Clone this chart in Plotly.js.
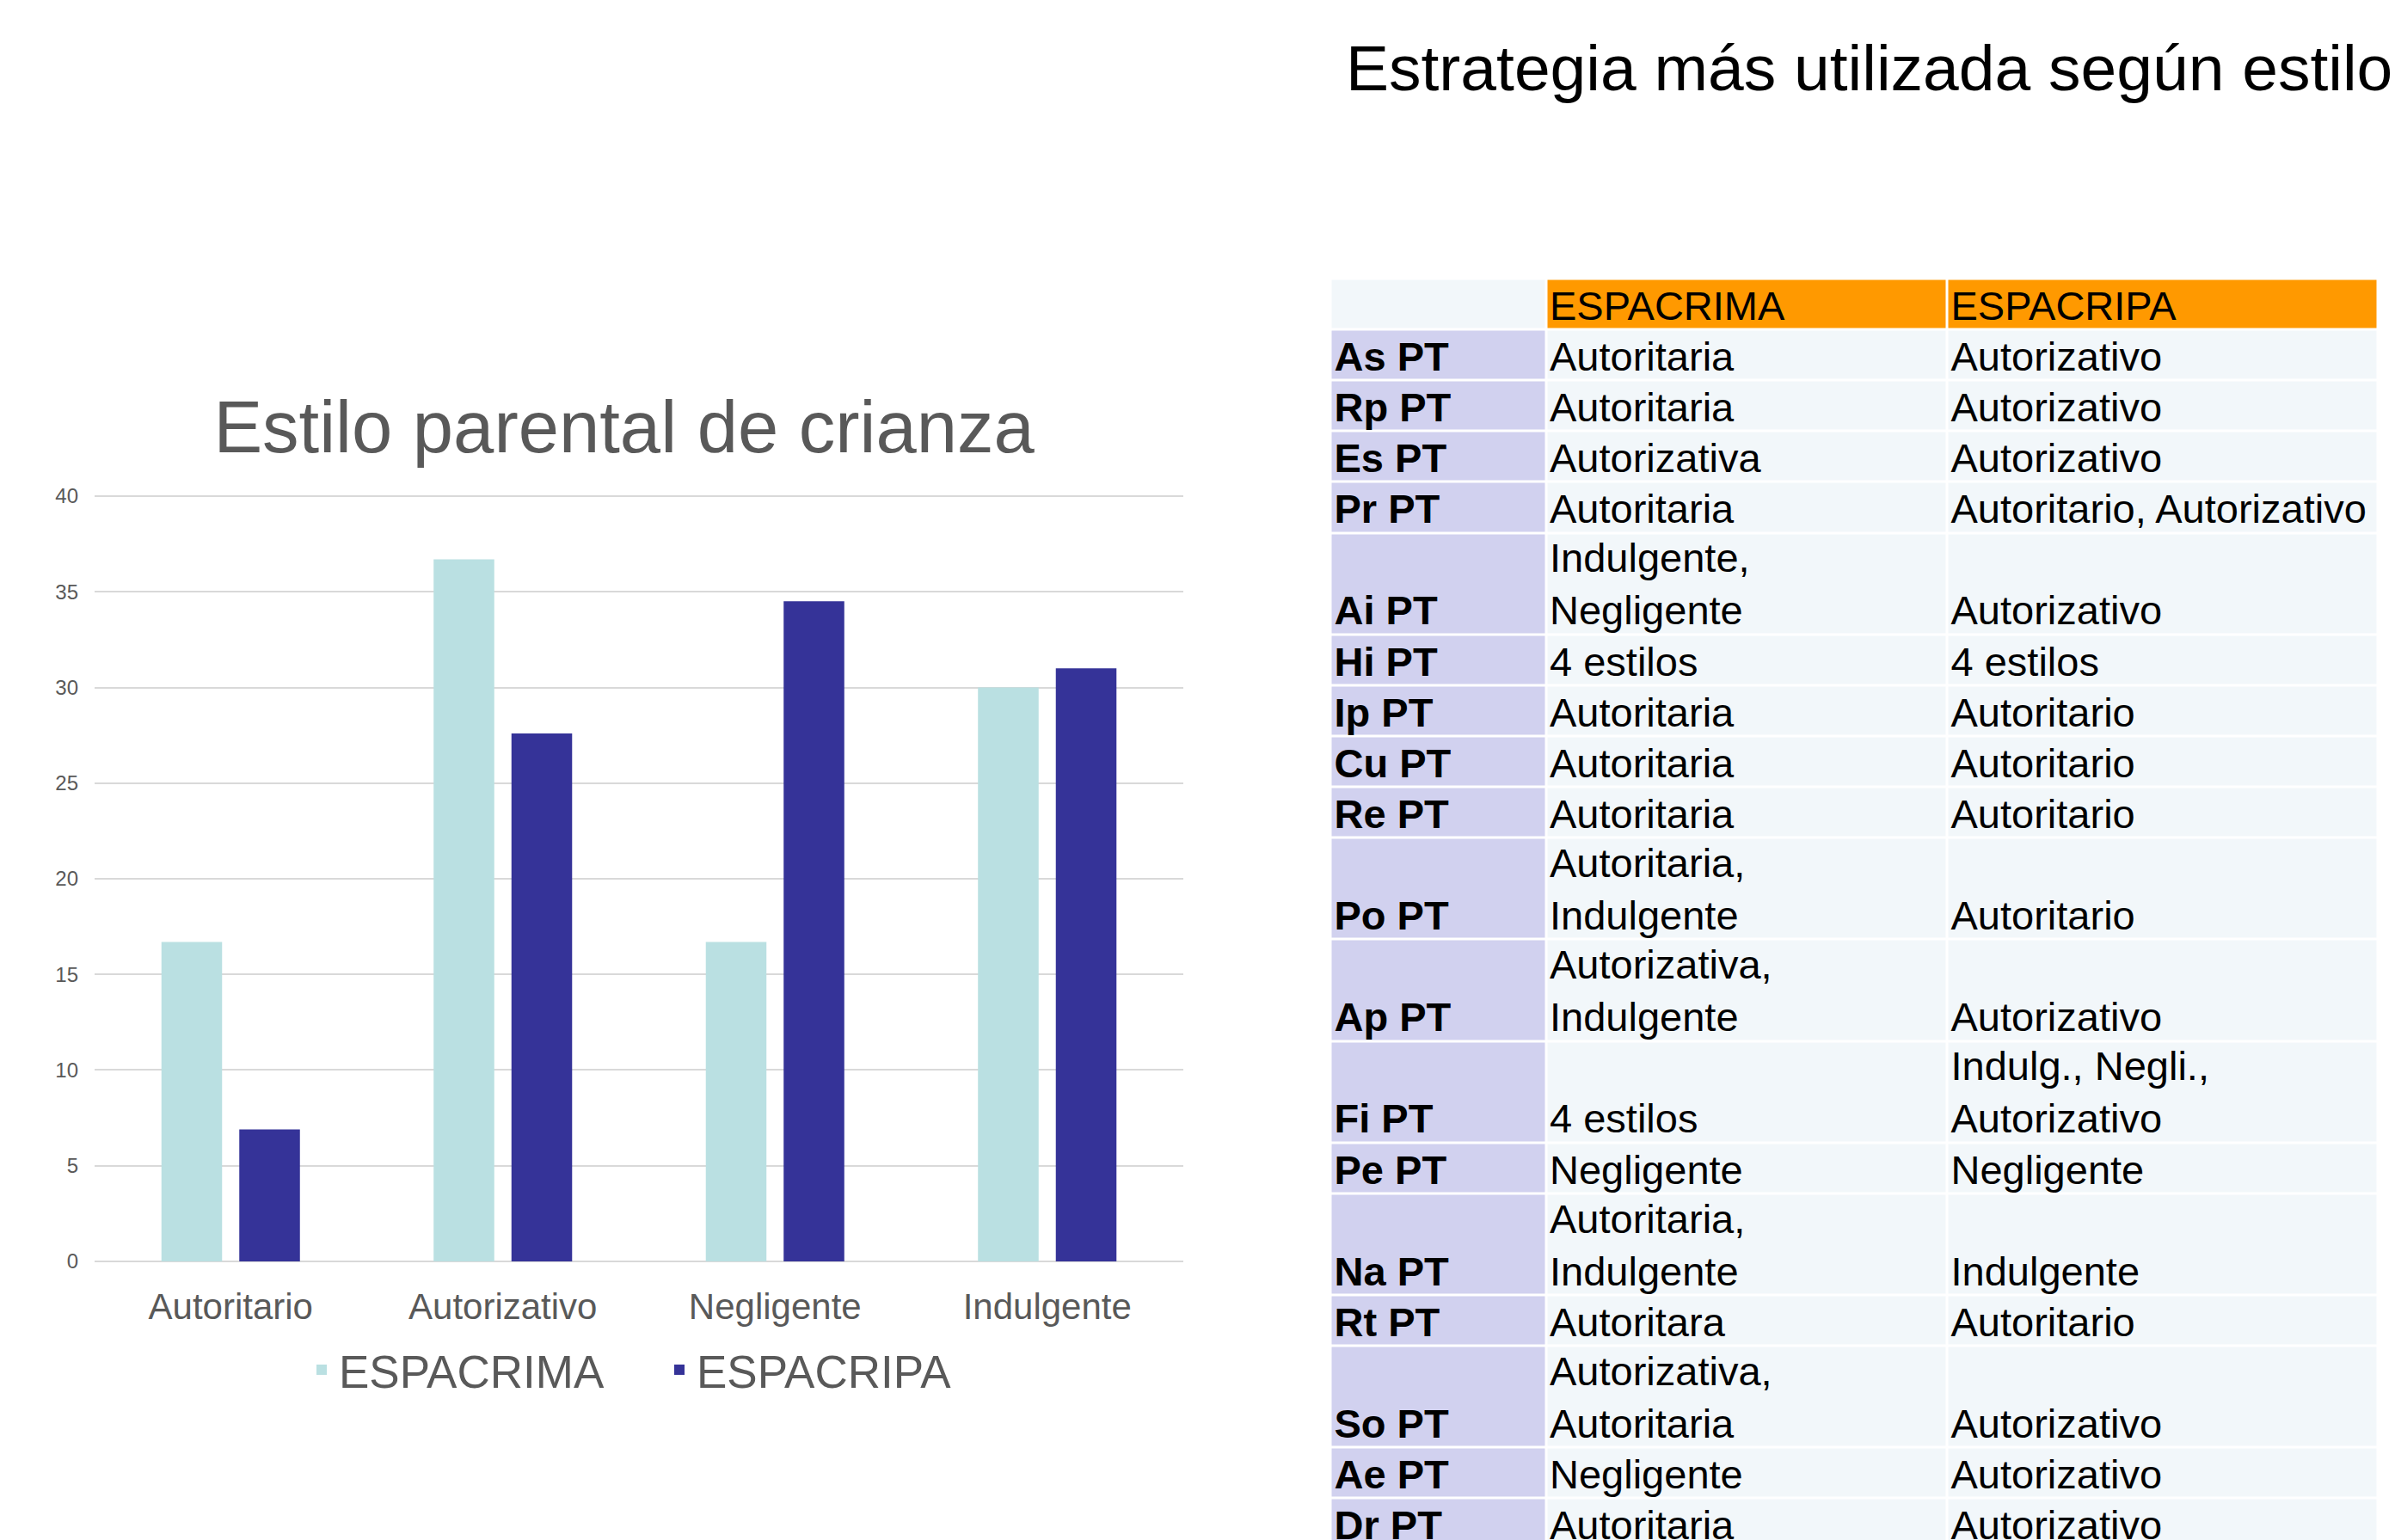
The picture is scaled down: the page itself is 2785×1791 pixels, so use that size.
<!DOCTYPE html>
<html>
<head>
<meta charset="utf-8">
<script src="https://cdn.plot.ly/plotly-3.0.1.min.js"></script>
<style>
  html, body { margin: 0; padding: 0; background: #ffffff; overflow: hidden; }
  #chart { width: 2785px; height: 1791px; }
</style>
</head>
<body>
<div id="chart"></div>
<script>
// ---------------- DATA ----------------
const categories = ['Autoritario', 'Autorizativo', 'Negligente', 'Indulgente'];
const espacrimaValues = [16.7, 36.7, 16.7, 30.0];
const espacripaValues = [6.9, 27.6, 34.5, 31.0];
const seriesNames = ['ESPACRIMA', 'ESPACRIPA'];

const tableHeader = ['', 'ESPACRIMA', 'ESPACRIPA'];
const rowLabels = ['As PT', 'Rp PT', 'Es PT', 'Pr PT', 'Ai PT', 'Hi PT', 'Ip PT', 'Cu PT', 'Re PT',
  'Po PT', 'Ap PT', 'Fi PT', 'Pe PT', 'Na PT', 'Rt PT', 'So PT', 'Ae PT', 'Dr PT'];
const colEspacrima = ['Autoritaria', 'Autoritaria', 'Autorizativa', 'Autoritaria', 'Indulgente,\nNegligente',
  '4 estilos', 'Autoritaria', 'Autoritaria', 'Autoritaria', 'Autoritaria,\nIndulgente', 'Autorizativa,\nIndulgente',
  '4 estilos', 'Negligente', 'Autoritaria,\nIndulgente', 'Autoritara', 'Autorizativa,\nAutoritaria', 'Negligente', 'Autoritaria'];
const colEspacripa = ['Autorizativo', 'Autorizativo', 'Autorizativo', 'Autoritario, Autorizativo', 'Autorizativo',
  '4 estilos', 'Autoritario', 'Autoritario', 'Autoritario', 'Autoritario', 'Autorizativo', 'Indulg., Negli.,\nAutorizativo',
  'Negligente', 'Indulgente', 'Autoritario', 'Autorizativo', 'Autorizativo', 'Autorizativo'];

// ---------------- LAYOUT CONSTANTS ----------------
const W = 2785, H = 1791;
const FONT = 'Liberation Sans, Arial, sans-serif';
const GREY = '#595959';
const COLORS = { espacrima: '#BAE0E2', espacripa: '#353398', header: '#FF9900', rowHead: '#D1D1EF', cell: '#F2F7FA' };

// bar plot area (px)
const plotLeft = 110, plotRight = 1376, plotBottom = 1467, pxPerUnit = 22.25;
const yMax = 40.06;
const plotTop = plotBottom - yMax * pxPerUnit;
// table area (px)
const tblLeft = 1547.5, tblTop = 324.5, rowUnit = 59.1;
const colWidths = [250.5, 466.5, 501];
const tblFont = 47, textPadX = 4;

// ---------------- TABLE GEOMETRY ----------------
const colEdges = [0];
colWidths.forEach(w => colEdges.push(colEdges[colEdges.length - 1] + w));
const tblRight = tblLeft + colEdges[colEdges.length - 1];

const lineCount = rowLabels.map((_, i) =>
  Math.max(colEspacrima[i].split('\n').length, colEspacripa[i].split('\n').length));
const rowEdges = [0, 1];
lineCount.forEach(n => rowEdges.push(rowEdges[rowEdges.length - 1] + n));

const z = [[0, 1, 1]];
rowLabels.forEach(() => z.push([2, 0, 0]));

const toBr = s => s.split('\n').join('<br>');
const rowBottoms = rowEdges.slice(2);

const yRangeBottom = (H - tblTop) / rowUnit;

const traces = [
  {
    type: 'bar', name: seriesNames[0], x: categories, y: espacrimaValues,
    marker: { color: COLORS.espacrima }, xaxis: 'x', yaxis: 'y', hoverinfo: 'x+y+name'
  },
  {
    type: 'bar', name: seriesNames[1], x: categories, y: espacripaValues,
    marker: { color: COLORS.espacripa }, xaxis: 'x', yaxis: 'y', hoverinfo: 'x+y+name'
  },
  {
    type: 'heatmap', x: colEdges, y: rowEdges, z: z, zmin: 0, zmax: 2,
    colorscale: [[0, COLORS.cell], [0.25, COLORS.cell], [0.25, COLORS.header], [0.75, COLORS.header],
      [0.75, COLORS.rowHead], [1, COLORS.rowHead]],
    showscale: false, xgap: 3, ygap: 3, hoverinfo: 'skip', xaxis: 'x2', yaxis: 'y2', showlegend: false
  },
  {
    type: 'scatter', mode: 'text', x: [colEdges[1] + textPadX, colEdges[2] + textPadX], y: [1, 1],
    text: tableHeader.slice(1), textposition: 'top right',
    textfont: { family: FONT, size: tblFont, color: '#000000' },
    hoverinfo: 'skip', xaxis: 'x2', yaxis: 'y2', showlegend: false
  },
  {
    type: 'scatter', mode: 'text', x: rowLabels.map(() => colEdges[0] + textPadX), y: rowBottoms,
    text: rowLabels, textposition: 'top right',
    textfont: { family: FONT, size: tblFont, color: '#000000', weight: 700 },
    hoverinfo: 'skip', xaxis: 'x2', yaxis: 'y2', showlegend: false
  },
  {
    type: 'scatter', mode: 'text', x: colEspacrima.map(() => colEdges[1] + textPadX), y: rowBottoms,
    text: colEspacrima.map(toBr), textposition: 'top right',
    textfont: { family: FONT, size: tblFont, color: '#000000' },
    hoverinfo: 'skip', xaxis: 'x2', yaxis: 'y2', showlegend: false
  },
  {
    type: 'scatter', mode: 'text', x: colEspacripa.map(() => colEdges[2] + textPadX), y: rowBottoms,
    text: colEspacripa.map(toBr), textposition: 'top right',
    textfont: { family: FONT, size: tblFont, color: '#000000' },
    hoverinfo: 'skip', xaxis: 'x2', yaxis: 'y2', showlegend: false
  }
];

const layout = {
  width: W, height: H,
  margin: { l: 0, r: 0, t: 0, b: 0, pad: 0 },
  paper_bgcolor: '#ffffff', plot_bgcolor: '#ffffff',
  font: { family: FONT, color: GREY },
  title: {
    text: 'Estilo parental de crianza',
    font: { family: FONT, size: 85, color: GREY },
    xref: 'paper', x: 725.6 / W, xanchor: 'center',
    yref: 'container', y: (H - 526) / H, yanchor: 'bottom'
  },
  barmode: 'group', bargap: 0.428, bargroupgap: 0.221,
  xaxis: {
    domain: [plotLeft / W, plotRight / W],
    tickfont: { family: FONT, size: 42, color: GREY },
    showgrid: false, showline: false, ticks: '', ticklabelstandoff: 24, fixedrange: true
  },
  yaxis: {
    domain: [(H - plotBottom) / H, (H - plotTop) / H],
    range: [0, yMax], dtick: 5, tick0: 0,
    tickfont: { family: FONT, size: 24, color: GREY },
    showgrid: true, gridcolor: '#D9D9D9', gridwidth: 2,
    zeroline: true, zerolinecolor: '#D9D9D9', zerolinewidth: 2,
    showline: false, ticks: '', ticklabelstandoff: 18, fixedrange: true
  },
  xaxis2: {
    domain: [tblLeft / W, tblRight / W], range: [0, colEdges[colEdges.length - 1]],
    visible: false, fixedrange: true, anchor: 'y2'
  },
  yaxis2: {
    domain: [0, (H - tblTop) / H], range: [yRangeBottom, 0],
    visible: false, fixedrange: true, anchor: 'x2'
  },
  legend: {
    orientation: 'h', x: 354 / W, xanchor: 'left', y: (H - 1552) / H, yanchor: 'top',
    entrywidth: 371, entrywidthmode: 'pixels',
    font: { family: FONT, size: 53, color: GREY }, bgcolor: 'rgba(0,0,0,0)'
  },
  annotations: [
    {
      text: 'Estrategia más utilizada según estilo',
      xref: 'paper', yref: 'paper', x: 1563 / W, xanchor: 'left',
      y: (H - 78.7) / H, yanchor: 'middle', showarrow: false,
      font: { family: FONT, size: 75, color: '#000000' }
    }
  ],
  showlegend: true
};

Plotly.newPlot('chart', traces, layout, { displayModeBar: false, responsive: false });
</script>
</body>
</html>
